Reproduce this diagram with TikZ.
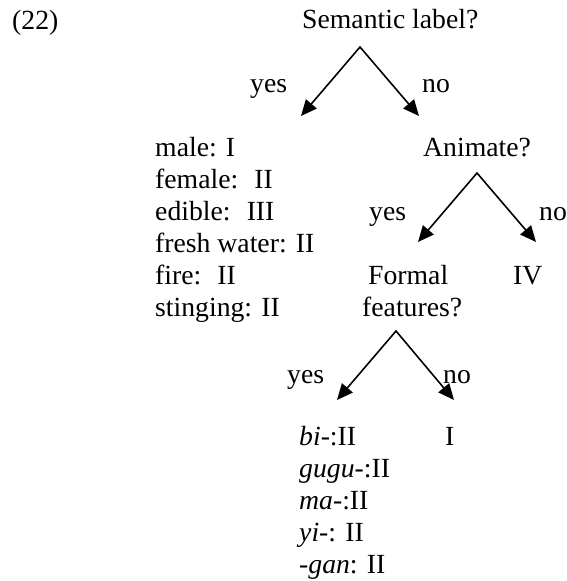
\documentclass[tikz,border=0pt]{standalone}
\usepackage{fontspec}
\setmainfont{Liberation Serif}
\usetikzlibrary{arrows.meta}
\begin{document}
\begin{tikzpicture}[x=1pt,y=-1pt,
  txt/.style={anchor=base west, inner sep=0pt, font=\fontsize{27.7}{32}\selectfont},
  fork/.style={line width=1.6pt, line join=miter,
    {Triangle[length=16pt,width=14pt]}-{Triangle[length=16pt,width=14pt]}}]
\useasboundingbox (0,0) rectangle (566,581);
% texts
\node[txt] (ex) at (12,29) {(22)};
\node[txt] (q1) at (302,28) {Semantic label?};
\node[txt] (y1) at (250,92) {yes};
\node[txt] (n1) at (422,92) {no};
\node[txt] (s1) at (155,156) {male: I};
\node[txt] (s2) at (155,188) {female: \ II};
\node[txt] (s3) at (155,220) {edible: \ III};
\node[txt] (s4) at (155,252) {fresh water: II};
\node[txt] (s5) at (155,284) {fire: \ II};
\node[txt] (s6) at (155,316) {stinging: II};
\node[txt] (q2) at (423,156) {Animate?};
\node[txt] (y2) at (369,220) {yes};
\node[txt] (n2) at (539,220) {no};
\node[txt] (q3a) at (368,284) {Formal};
\node[txt] (q3b) at (362,316) {features?};
\node[txt] (c4) at (513,284) {IV};
\node[txt] (y3) at (287,383) {yes};
\node[txt] (n3) at (443,383) {no};
\node[txt] (f1) at (299,445) {\textit{bi-}:II};
\node[txt] (f2) at (299,477) {\textit{gugu-}:II};
\node[txt] (f3) at (299,509) {\textit{ma-}:II};
\node[txt] (f4) at (299,541) {\textit{yi-}: II};
\node[txt] (f5) at (299,573) {\textit{-gan}: II};
\node[txt] (c1) at (445,445) {I};
% fork points
\coordinate (a1) at (360,47);
\coordinate (l1) at (301,116);
\coordinate (r1) at (419,116);
\coordinate (a2) at (477,173);
\coordinate (l2) at (418,242);
\coordinate (r2) at (536,242);
\coordinate (a3) at (396,331);
\coordinate (l3) at (337,400);
\coordinate (r3) at (454,400);
\draw[fork] (l1) -- (a1) -- (r1);
\draw[fork] (l2) -- (a2) -- (r2);
\draw[fork] (l3) -- (a3) -- (r3);
\end{tikzpicture}
\end{document}
